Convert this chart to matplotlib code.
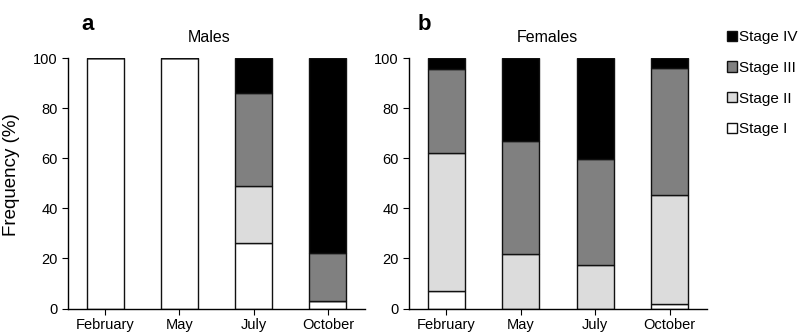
import matplotlib
matplotlib.use("Agg")
import matplotlib.pyplot as plt
import numpy as np

plt.rcParams['font.family'] = ['Liberation Sans', 'DejaVu Sans']

months = ["February", "May", "July", "October"]
stages = ["Stage I", "Stage II", "Stage III", "Stage IV"]
colors = ["#ffffff", "#dcdcdc", "#808080", "#000000"]

males_I = [100, 100, 26, 3]
males_II = [0, 0, 23, 0]
males_III = [0, 0, 37, 19]
males_IV = [0, 0, 14, 78]

females_I = [7, 0, 0, 1.7]
females_II = [55, 21.7, 17.3, 43.6]
females_III = [33.7, 45.3, 42.3, 50.8]
females_IV = [4.3, 33, 40.4, 3.9]

W, H = 798, 335
fig = plt.figure(figsize=(W/100, H/100), dpi=100)

TOP, BOT = 58, 308.5

def make_ax(left, right, data, title, letter, letter_x, title_x, ylabel):
    ax = fig.add_axes([left/W, 1-BOT/H, (right-left)/W, (BOT-TOP)/H])
    x = np.arange(len(months))
    bottom = np.zeros(len(months))
    handles = []
    for vals, c, s in zip(data, colors, stages):
        v = np.array(vals, dtype=float)
        h = ax.bar(x, v, width=0.5, bottom=bottom, color=c, edgecolor="#111111",
                   linewidth=1.0, label=s)
        handles.append(h)
        bottom += v
    ax.set_xlim(-0.5, 3.5)
    ax.set_ylim(0, 100)
    ax.set_yticks([0, 20, 40, 60, 80, 100])
    ax.set_xticks(x)
    ax.set_xticklabels(months)
    for sp in ["top", "right"]:
        ax.spines[sp].set_visible(False)
    for sp in ["left", "bottom"]:
        ax.spines[sp].set_linewidth(1.0)
    ax.tick_params(axis="both", labelsize=10.5, length=4, width=0.8, direction="out")
    ax.tick_params(axis="x", pad=3)
    if ylabel:
        ax.set_ylabel(ylabel, fontsize=13.5)
        ax.yaxis.set_label_coords((20 - left) / (right - left), (BOT - 175) / (BOT - TOP))
    fig.text(letter_x/W, 1-24/H, letter, fontsize=16, fontweight="bold", ha="center", va="center")
    fig.text(title_x/W, 1-37/H, title, fontsize=11.5, ha="center", va="center")
    return ax, handles

axm, hm = make_ax(68, 365, [males_I, males_II, males_III, males_IV], "Males", "a", 88, 209, "Frequency (%)")
axf, hf = make_ax(409, 707, [females_I, females_II, females_III, females_IV], "Females", "b", 424, 547, None)

leg = fig.legend(hf[::-1], stages[::-1], loc="upper left", bbox_to_anchor=(727/W, 1-30/H),
                 frameon=False, fontsize=11, handlelength=0.65, handleheight=0.65,
                 handletextpad=0.15, labelspacing=1.1, borderaxespad=0, borderpad=0)

fig.savefig("out.png", dpi=100)
